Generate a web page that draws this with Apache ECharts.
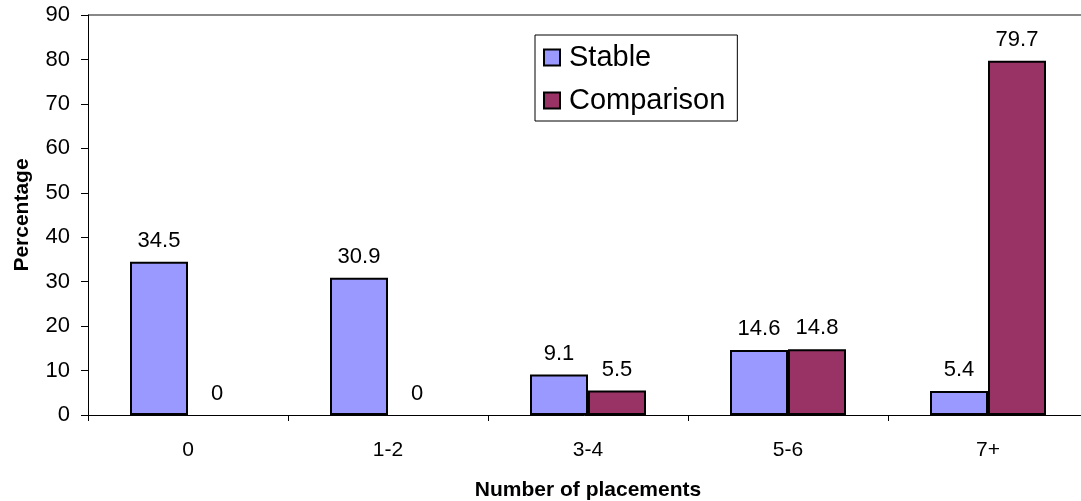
<!DOCTYPE html>
<html>
<head>
<meta charset="utf-8">
<script src="https://cdn.jsdelivr.net/npm/echarts@6/dist/echarts.min.js"></script>
<style>
  html, body { margin: 0; padding: 0; background: #fff; }
  #chart { width: 1081px; height: 501px; }
</style>
</head>
<body>
<div id="chart"></div>
<script>
const categories = ['0', '1-2', '3-4', '5-6', '7+'];
const stable = [34.5, 30.9, 9.1, 14.6, 5.4];
const comparison = [0, 0, 5.5, 14.8, 79.7];

const font = 'Liberation Sans, Arial, sans-serif';
// only the top (90) grid line is drawn, in gray
const clear = 'rgba(0,0,0,0)';
const splitColors = [clear, clear, clear, clear, clear, clear, clear, clear, clear, '#888'];

// zero-height bars get no outline
const toBars = arr => arr.map(v => (v === 0 ? { value: v, itemStyle: { borderWidth: 0 } } : v));

const barLabel = { show: true, position: 'top', distance: 10, fontSize: 22, color: '#000' };

const myChart = echarts.init(document.getElementById('chart'));
myChart.setOption({
  animation: false,
  textStyle: { fontFamily: font },
  grid: { left: 88, right: -7, top: 15, bottom: 86, containLabel: false, outerBoundsMode: 'none' },
  legend: {
    orient: 'vertical',
    left: 535,
    top: 35,
    padding: [8, 12, 6, 8],
    itemGap: 14,
    itemWidth: 16,
    itemHeight: 16,
    icon: 'rect',
    borderColor: '#000',
    borderWidth: 1,
    textStyle: { fontSize: 29, color: '#000', fontFamily: font, padding: [0, 0, 0, 4] },
    data: ['Stable', 'Comparison'],
  },
  xAxis: {
    type: 'category',
    data: categories,
    name: 'Number of placements',
    nameLocation: 'middle',
    nameGap: 65,
    nameTextStyle: { fontWeight: 'bold', fontSize: 21, color: '#000' },
    axisLine: { lineStyle: { color: '#000', width: 1 } },
    axisTick: { show: true, length: 6, lineStyle: { color: '#000' } },
    axisLabel: { fontSize: 21, color: '#000', margin: 25 },
  },
  yAxis: {
    type: 'value',
    min: 0,
    max: 90,
    interval: 10,
    name: 'Percentage',
    nameLocation: 'middle',
    nameGap: 55,
    nameTextStyle: { fontWeight: 'bold', fontSize: 21, color: '#000' },
    axisLine: { show: true, lineStyle: { color: '#000', width: 1 } },
    axisTick: { show: true, length: 7, lineStyle: { color: '#000' } },
    axisLabel: { fontSize: 22, color: '#000', margin: 18 },
    splitLine: { show: true, lineStyle: { color: splitColors, width: 2 } },
  },
  series: [
    {
      name: 'Stable',
      type: 'bar',
      data: toBars(stable),
      barGap: '0%',
      barCategoryGap: '42%',
      itemStyle: { color: '#9999FF', borderColor: '#000', borderWidth: 2 },
      label: barLabel,
    },
    {
      name: 'Comparison',
      type: 'bar',
      data: toBars(comparison),
      itemStyle: { color: '#993366', borderColor: '#000', borderWidth: 2 },
      label: barLabel,
    },
  ],
});
</script>
</body>
</html>
